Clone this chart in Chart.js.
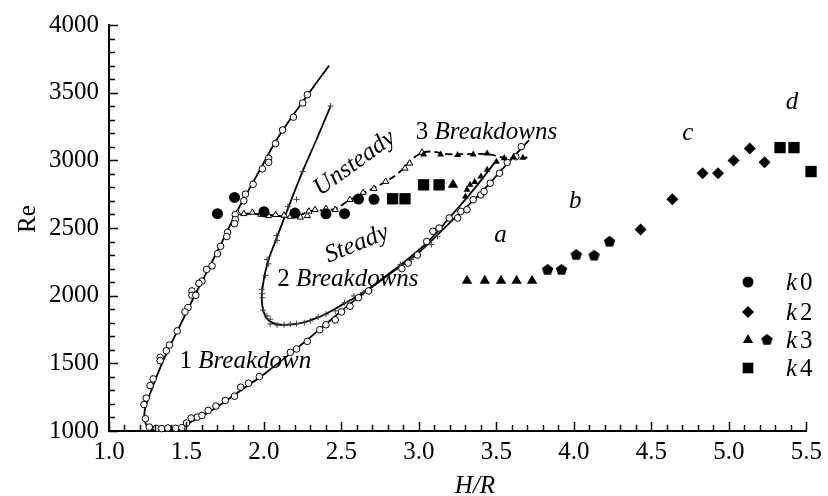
<!DOCTYPE html>
<html>
<head>
<meta charset="utf-8">
<script src="https://cdn.jsdelivr.net/npm/chart.js@4.4.1/dist/chart.umd.min.js"></script>
<style>
  html, body { margin: 0; padding: 0; background: #fff; }
</style>
</head>
<body>
<canvas id="chart" width="828" height="496"></canvas>
<script>
// axes: H/R along x, Re along y
const xTicks = [1.0, 1.5, 2.0, 2.5, 3.0, 3.5, 4.0, 4.5, 5.0, 5.5];
const yTicks = [1000, 1500, 2000, 2500, 3000, 3500, 4000];

// 1 Breakdown boundary: open circles and their curve
const circleMarks = [
  [2.28,3485],[2.25,3424],[2.19,3319],[2.12,3224],[2.075,3123],[2.03,3015],[2.03,2985],[1.99,2937],
  [1.93,2823],[1.88,2750],[1.87,2701],[1.815,2599],[1.815,2562],[1.81,2532],[1.765,2468],[1.76,2437],
  [1.72,2365],[1.70,2310],[1.665,2220],[1.63,2194],[1.60,2108],[1.58,2091],[1.535,2035],[1.535,2003],
  [1.56,2003],[1.51,1912],[1.49,1880],[1.44,1740],[1.39,1635],[1.37,1593],[1.33,1544],[1.33,1520],
  [1.285,1385],[1.265,1336],[1.24,1243],[1.225,1196],[1.235,1091],[1.26,1029],[1.305,1020],[1.34,1018],
  [1.38,1022],[1.43,1020],[1.47,1025],[1.50,1059],[1.53,1096],[1.57,1103],[1.60,1115],[1.64,1152],
  [1.69,1184],[1.75,1226],[1.81,1257],[1.85,1324],[1.90,1353],[1.97,1402],[2.17,1581],[2.21,1606],
  [2.28,1662],[2.36,1748],[2.40,1785],[2.46,1821],[2.50,1880],[2.555,1922],[2.61,1985],[2.675,2035],
  [2.89,2200],[2.93,2240],[2.99,2300],[3.05,2400],[3.09,2476],[3.13,2500],[3.195,2574],[3.25,2574],
  [3.27,2623],[3.31,2635],[3.35,2709],[3.40,2745],[3.42,2770],[3.46,2831],[3.52,2905],[3.57,2985],
  [3.625,3027],[3.66,3101]
];
const circleCurve = [
  [2.42,3700],[2.28,3480],[2.10,3185],[1.95,2880],[1.82,2610],[1.70,2330],[1.57,2040],[1.45,1760],
  [1.35,1520],[1.28,1320],[1.23,1150],[1.235,1060],[1.27,1015],[1.35,1008],[1.45,1022],[1.55,1080],
  [1.70,1180],[1.85,1300],[2.0,1420],[2.2,1600],[2.4,1790],[2.6,1980],[2.8,2150],[3.0,2320],
  [3.2,2540],[3.4,2760],[3.55,2950],[3.71,3150]
];

// 2 Breakdowns boundary: plus marks and their curve
const plusMarks = [
  [2.43,3402],[2.25,2917],[2.21,2711],[2.155,2660],[2.08,2443],[2.085,2408],[2.02,2268],[2.03,2235],
  [2.01,2150],[1.985,2047],[1.99,2015],[1.99,1985],[1.995,1893],[2.02,1851],[2.04,1826],[2.04,1790],
  [2.085,1782],[2.13,1785],[2.17,1790],[2.21,1794],[2.26,1801],[2.30,1814],[2.35,1843],[2.40,1863],
  [2.46,1888],[2.52,1949],[2.58,1998],[2.64,2022],[2.685,2040],[2.88,2231],[2.95,2268],[2.99,2304],
  [3.08,2378],[3.12,2439]
];
const plusCurve = [
  [2.43,3400],[2.33,3130],[2.25,2920],[2.16,2660],[2.08,2420],[2.02,2230],[1.99,2050],[1.99,1920],
  [2.02,1830],[2.08,1790],[2.2,1790],[2.35,1840],[2.5,1930],[2.65,2030],[2.85,2200],[3.05,2390],
  [3.2,2580],[3.35,2780],[3.5,3000]
];

// unsteady boundary (open triangles) and 3 breakdowns (small filled triangles)
const unsteadyMarks = [
  [1.83,2612],[1.87,2605],[1.925,2615],[1.98,2600],[2.03,2590],[2.075,2598],[2.13,2593],[2.17,2585],
  [2.235,2579],[2.28,2590],[2.29,2623],[2.33,2635],[2.40,2643],[2.46,2635],[2.555,2709],[2.64,2762],
  [2.71,2790],[2.785,2843],[2.91,2941],[2.94,2978],[3.02,3059]
];
const threeMarks = [
  [3.03,3044],[3.14,3044],[3.25,3040],[3.35,3044],[3.44,3050],[3.55,3015],[3.61,3025],[3.67,3020],
  [3.50,2990],[3.44,2930],[3.40,2880],[3.36,2840],[3.33,2819],[3.31,2782],[3.30,2733]
];
const dashedCurve = [
  [1.80,2610],[2.0,2600],[2.2,2585],[2.3,2625],[2.45,2640],[2.55,2705],[2.7,2790],[2.85,2890],
  [3.02,3055],[3.2,3045],[3.45,3045],[3.55,3020],[3.70,3020]
];

// k series
const k0 = [[1.70,2606],[1.81,2726],[2.00,2620],[2.20,2610],[2.40,2605],[2.52,2606],[2.61,2714],[2.71,2712]];
const k2 = [[4.43,2488],[4.635,2713],[4.83,2905],[4.93,2905],[5.03,2998],[5.135,3088],[5.23,2985]];
const k3tri = [[3.22,2819],[3.31,2110],[3.425,2110],[3.53,2110],[3.63,2110],[3.73,2110]];
const k3pent = [[3.83,2194],[3.92,2194],[4.015,2304],[4.13,2299],[4.23,2402]];
const k4 = [[2.83,2716],[2.91,2716],[3.03,2819],[3.13,2819],[5.33,3094],[5.42,3094],[5.53,2917]];

const legendLabels = ['0', '2', '3', '4'];

// text labels placed in data units
const notes = [
  { parts: [['3 ', false], ['Breakdowns', true]], x: 2.98, y: 3160, angle: 0, align: 'left' },
  { parts: [['2 ', false], ['Breakdowns', true]], x: 2.085, y: 2071, angle: 0, align: 'left' },
  { parts: [['1 ', false], ['Breakdown', true]], x: 1.455, y: 1463, angle: 0, align: 'left' },
  { parts: [['Unsteady', true]], x: 2.61, y: 2940, angle: -36, align: 'center' },
  { parts: [['Steady', true]], x: 2.615, y: 2336, angle: -22, align: 'center' },
  { parts: [['a', true]], x: 3.527, y: 2395, angle: 0, align: 'center' },
  { parts: [['b', true]], x: 4.008, y: 2645, angle: 0, align: 'center' },
  { parts: [['c', true]], x: 4.735, y: 3152, angle: 0, align: 'center' },
  { parts: [['d', true]], x: 5.408, y: 3380, angle: 0, align: 'center' }
];

const FONT = '"Liberation Serif", "Times New Roman", serif';
const toXY = arr => arr.map(p => ({ x: p[0], y: p[1] }));

// pentagon marker
const pentagon = document.createElement('canvas');
pentagon.width = 13; pentagon.height = 13;
(function () {
  const c = pentagon.getContext('2d');
  c.fillStyle = '#000';
  c.beginPath();
  for (let i = 0; i < 5; i++) {
    const a = -Math.PI / 2 + i * 2 * Math.PI / 5;
    const px = 6.5 + 6 * Math.cos(a), py = 7 + 6 * Math.sin(a);
    i ? c.lineTo(px, py) : c.moveTo(px, py);
  }
  c.closePath();
  c.fill();
})();

function marks(data, style, radius, fill, border, bw) {
  return {
    data: toXY(data), showLine: false, clip: false,
    pointStyle: style, pointRadius: radius, pointHoverRadius: radius,
    backgroundColor: fill, borderColor: border, pointBorderWidth: bw, borderWidth: bw
  };
}
function curve(data, dash) {
  return {
    data: toXY(data), showLine: true, pointRadius: 0, pointHoverRadius: 0,
    borderColor: '#000', borderWidth: 1.8, borderDash: dash || [], tension: 0.4,
    clip: false, backgroundColor: 'transparent'
  };
}

const overlay = {
  id: 'overlay',
  afterDatasetsDraw(chart) {
    const { ctx, chartArea: a, scales: { x, y } } = chart;
    ctx.save();
    ctx.strokeStyle = '#000';
    ctx.fillStyle = '#000';
    ctx.lineWidth = 1.5;
    // inward ticks
    ctx.beginPath();
    for (let i = 0; i <= 45; i++) {
      const px = Math.round(x.getPixelForValue(1 + i * 0.1)) + 0.5;
      const len = i % 5 === 0 ? 9 : 6;
      ctx.moveTo(px, a.bottom); ctx.lineTo(px, a.bottom - len);
    }
    for (let i = 0; i <= 30; i++) {
      const py = Math.round(y.getPixelForValue(1000 + i * 100)) + 0.5;
      const len = i % 5 === 0 ? 9 : 6;
      ctx.moveTo(a.left, py); ctx.lineTo(a.left + len, py);
    }
    ctx.stroke();

    // notes
    ctx.textBaseline = 'alphabetic';
    ctx.textAlign = 'left';
    notes.forEach(n => {
      const fonts = n.parts.map(p => (p[1] ? 'italic ' : '') + '25px ' + FONT);
      let total = 0;
      const widths = n.parts.map((p, i) => { ctx.font = fonts[i]; const w = ctx.measureText(p[0]).width; total += w; return w; });
      ctx.save();
      ctx.translate(x.getPixelForValue(n.x), y.getPixelForValue(n.y));
      ctx.rotate(n.angle * Math.PI / 180);
      let cx = n.align === 'center' ? -total / 2 : 0;
      n.parts.forEach((p, i) => { ctx.font = fonts[i]; ctx.fillText(p[0], cx, 0); cx += widths[i]; });
      ctx.restore();
    });

    // axis titles
    ctx.font = 'italic 25px ' + FONT;
    ctx.textAlign = 'center';
    ctx.textBaseline = 'middle';
    ctx.fillText('H/R', 475, 486);
    ctx.save();
    ctx.translate(28, 219);
    ctx.rotate(-Math.PI / 2);
    ctx.font = '25px ' + FONT;
    ctx.fillText('Re', 0, 0);
    ctx.restore();

    // legend
    const rows = [
      [['circle', 5.5]],
      [['rectRot', 6]],
      [['triangle', 6]],
      [['rect', 7.5]]
    ];
    const rowY = [282, 312, 340, 368];
    rows.forEach((styles, r) => {
      styles.forEach(s => {
        Chart.helpers.drawPoint(ctx, { pointStyle: s[0], radius: s[1], rotation: 0, borderWidth: 0 }, 748, rowY[r]);
      });
      ctx.textAlign = 'left';
      ctx.font = 'italic 25px ' + FONT;
      ctx.fillText('k', 786, rowY[r] + 1);
      ctx.font = '25px ' + FONT;
      ctx.fillText(legendLabels[r], 800, rowY[r] + 1);
    });
    ctx.drawImage(pentagon, 767 - 6.5, 340 - 7);
    ctx.restore();
  }
};

new Chart(document.getElementById('chart'), {
  type: 'scatter',
  data: {
    datasets: [
      marks(k0, 'circle', 5.5, '#000', '#000', 0),
      marks(k2, 'rectRot', 6, '#000', '#000', 0),
      marks(k3tri, 'triangle', 6, '#000', '#000', 0),
      marks(k3pent, pentagon, 6, '#000', '#000', 0),
      marks(k4, 'rect', 8, '#000', '#000', 0),
      marks(threeMarks, 'triangle', 4, '#000', '#000', 0),
      marks(circleMarks, 'circle', 3.3, '#fff', '#000', 1),
      marks(unsteadyMarks, 'triangle', 3.6, '#fff', '#000', 1),
      marks(plusMarks, 'cross', 3, '#444', '#444', 1),
      curve(circleCurve),
      curve(plusCurve),
      curve(dashedCurve, [7, 4])
    ]
  },
  options: {
    responsive: false,
    animation: false,
    devicePixelRatio: 1,
    layout: { padding: { top: 23, right: 16, left: 0, bottom: 0 } },
    plugins: { legend: { display: false }, tooltip: { enabled: false } },
    scales: {
      x: {
        type: 'linear', min: 1, max: 5.5,
        afterFit: s => { s.height = 65; },
        afterBuildTicks: s => { s.ticks = xTicks.map(v => ({ value: v })); },
        grid: { display: false, drawTicks: false },
        border: { display: true, color: '#000', width: 2 },
        ticks: { color: '#000', padding: 6, font: { family: FONT, size: 25 }, callback: v => Number(v).toFixed(1), maxRotation: 0, autoSkip: false }
      },
      y: {
        type: 'linear', min: 1000, max: 4000,
        afterFit: s => { s.width = 109; },
        afterBuildTicks: s => { s.ticks = yTicks.map(v => ({ value: v })); },
        grid: { display: false, drawTicks: false },
        border: { display: true, color: '#000', width: 2 },
        ticks: { color: '#000', padding: 10, font: { family: FONT, size: 25 }, callback: v => String(v), autoSkip: false }
      }
    }
  },
  plugins: [overlay]
});
</script>
</body>
</html>
